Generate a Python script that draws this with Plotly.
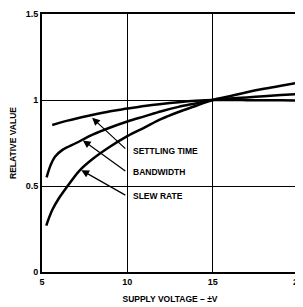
import plotly.graph_objects as go

# Data
slew_v = [5.25, 5.6, 6.0, 6.5, 7.2, 8.0, 9.0, 10, 11, 12, 13, 14, 15, 16, 17, 18, 19, 20]
slew_y = [0.27, 0.36, 0.43, 0.50, 0.59, 0.66, 0.73, 0.79, 0.84, 0.89, 0.93, 0.965, 1.0, 1.022, 1.045, 1.065, 1.083, 1.10]

bw_v = [5.27, 5.5, 5.76, 6.2, 7.0, 8.0, 9.0, 10, 11, 12, 13, 14, 15, 16, 17, 18, 19, 20]
bw_y = [0.55, 0.62, 0.67, 0.71, 0.75, 0.80, 0.84, 0.875, 0.905, 0.935, 0.96, 0.98, 1.0, 1.008, 1.015, 1.022, 1.029, 1.035]

st_v = [5.6, 6.5, 7.8, 9.0, 10, 11, 12, 13, 14, 15, 16, 17, 18, 19, 20]
st_y = [0.855, 0.88, 0.91, 0.935, 0.95, 0.965, 0.977, 0.987, 0.995, 1.0, 1.0, 0.999, 0.998, 0.998, 0.997]

x_ticks = [5, 10, 15, 20]
x_tick_labels = ["5", "10", "15", "20"]
y_ticks = [0, 0.5, 1, 1.5]
y_tick_labels = ["0", "0.5", "1", "1.5"]

labels = ["SETTLING TIME", "BANDWIDTH", "SLEW RATE"]
label_x = [10.2, 10.2, 10.2]
label_y = [0.705, 0.581, 0.442]
arrow_tip_x = [7.85, 7.3, 7.2]
arrow_tip_y = [0.905, 0.772, 0.598]
arrow_tail_x = [9.97, 9.97, 9.97]
arrow_tail_y = [0.709, 0.581, 0.442]

FONT = "Liberation Sans"

fig = go.Figure()
for xs, ys in [(st_v, st_y), (bw_v, bw_y), (slew_v, slew_y)]:
    fig.add_trace(go.Scatter(x=xs, y=ys, mode="lines", line=dict(color="black", width=2.5, shape="spline"),
                             showlegend=False, hoverinfo="skip"))

for t, lx, ly in zip(labels, label_x, label_y):
    fig.add_annotation(x=lx, y=ly, text=t, showarrow=False, xanchor="left", yanchor="middle",
                       font=dict(family=FONT, size=8.5, color="black", weight="bold"))

for tx, ty, ax, ay in zip(arrow_tip_x, arrow_tip_y, arrow_tail_x, arrow_tail_y):
    fig.add_annotation(x=tx, y=ty, ax=ax, ay=ay, xref="x", yref="y", axref="x", ayref="y",
                       text="", showarrow=True, arrowhead=2, arrowsize=1.3, arrowwidth=1.2,
                       arrowcolor="black", standoff=2)

fig.update_layout(
    width=303, height=307,
    margin=dict(l=34, r=13, t=6, b=43, autoexpand=False),
    plot_bgcolor="white", paper_bgcolor="white",
    xaxis=dict(range=[5, 20], tickvals=x_ticks, ticktext=x_tick_labels, showgrid=True,
               gridcolor="black", gridwidth=1.2, zeroline=False, showline=True, linecolor="black",
               linewidth=2, mirror=True, ticks="", ticklabelstandoff=0,
               tickfont=dict(family=FONT, size=9, color="black", weight="bold"),
               title=dict(text="SUPPLY VOLTAGE – ±V", standoff=10,
                          font=dict(family=FONT, size=8.5, color="black", weight="bold"))),
    yaxis=dict(range=[0, 1.5], tickvals=y_ticks, ticktext=y_tick_labels, showgrid=True,
               gridcolor="black", gridwidth=1.2, zeroline=False, showline=True, linecolor="black",
               linewidth=2, mirror=True, ticks="",
               tickfont=dict(family=FONT, size=9, color="black", weight="bold"),
               title=dict(text="RELATIVE VALUE", standoff=12,
                          font=dict(family=FONT, size=8.5, color="black", weight="bold"))),
)

fig.write_html("out.html")
